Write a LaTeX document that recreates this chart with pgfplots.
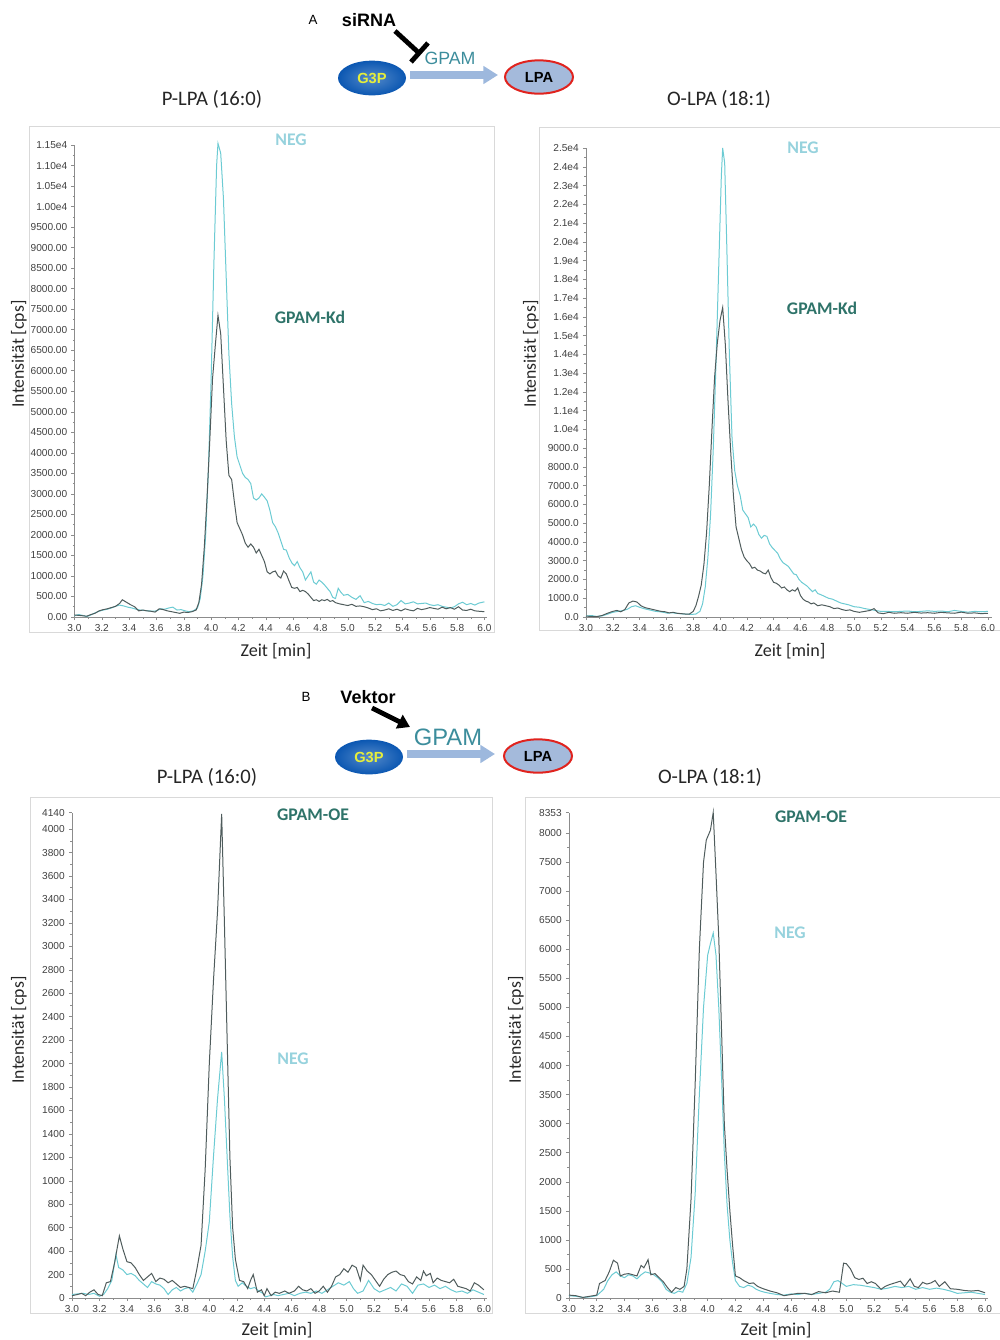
\documentclass[border=0pt]{standalone}
\usepackage{pgfplots}
\pgfplotsset{compat=1.18}
\usepackage{fontspec}
\setmainfont{Carlito}
\newfontfamily\arial{Liberation Sans}
\usetikzlibrary{arrows.meta,shapes.geometric}

\definecolor{negline}{HTML}{6CCBD3}
\definecolor{darkline}{HTML}{4F5C5C}
\definecolor{negtext}{HTML}{96D2DD}
\definecolor{kdtext}{HTML}{2E7369}
\definecolor{axisgray}{HTML}{8C8C8C}
\definecolor{tickgray}{HTML}{404040}
\definecolor{labeltext}{HTML}{262626}
\definecolor{framegray}{HTML}{D9D9D9}
\definecolor{gpamteal}{HTML}{3C8D9C}
\definecolor{arrowblue}{HTML}{9DB8DD}
\definecolor{lpafill}{HTML}{A4BADB}
\definecolor{lpared}{HTML}{E0231E}
\definecolor{gthreep}{HTML}{0B57B2}
\definecolor{gthreeptext}{HTML}{E6EE3A}

\pgfplotsset{
  chrom/.style={
    scale only axis,
    anchor=south west,
    axis x line=bottom,
    axis y line=left,
    axis line style={draw=axisgray,line width=0.6pt,-},
    tick style={draw=axisgray,line width=0.4pt},
    major tick length=2.4pt,
    minor tick length=1.3pt,
    tick align=outside,
    xmin=3,
    xtick={3.0,3.2,...,6.01},
    minor x tick num=1,
    minor y tick num=1,
    ymin=0,
    clip=false,
    scaled y ticks=false,
    scaled x ticks=false,
    /pgf/number format/assume math mode=true,
    tick label style={font=\arial\fontsize{7.6}{8.5}\selectfont,text=tickgray},
    xticklabel style={yshift=0.5pt,/pgf/number format/fixed,/pgf/number format/fixed zerofill,/pgf/number format/precision=1},
    yticklabel style={xshift=0.5pt},
    every axis plot/.append style={line width=0.75pt,mark=none},
  },
  intticks/.style={
    yticklabel style={/pgf/number format/fixed,/pgf/number format/precision=0,/pgf/number format/1000 sep={}},
  },
  negp/.style={draw=negline},
  kdp/.style={draw=darkline},
}

\begin{document}
\begin{tikzpicture}
\begin{scope}[x=0.75pt,y=-0.75pt]
\path[use as bounding box] (0,0) rectangle (992,1340);
% frames
\draw[framegray,line width=0.5pt] (29,126) rectangle (494,632);
\draw[framegray,line width=0.5pt] (539,127) rectangle (1000,630);
\draw[framegray,line width=0.5pt] (30,797) rectangle (492,1313);
\draw[framegray,line width=0.5pt] (525,797) rectangle (1000,1313);

% scheme A
\node[font=\arial\fontsize{10}{12}\selectfont] at (313,20) {A};
\node[font=\arial\bfseries\fontsize{13.5}{15}\selectfont] at (369,20) {siRNA};
\draw[black,line width=3.6pt] (395,31) -- (419,53);
\draw[black,line width=3.6pt] (411,62) -- (428,43);
\node[font=\arial\fontsize{13.3}{15}\selectfont,text=gpamteal] at (450,58) {GPAM};
\draw[arrowblue,line width=6pt,-{Triangle[length=11pt,width=13pt]}] (410,75) -- (498,75);
\node[ellipse,minimum width=51pt,minimum height=26pt,inner sep=0pt,
  inner color=gthreep!70!white,outer color=gthreep,
  font=\arial\bfseries\fontsize{11}{12}\selectfont,text=gthreeptext] at (372,78) {G3P};
\node[ellipse,minimum width=51pt,minimum height=25pt,inner sep=0pt,
  fill=lpafill,draw=lpared,line width=1.5pt,
  font=\arial\bfseries\fontsize{11}{12}\selectfont] at (539,77) {LPA};

% scheme B
\node[font=\arial\fontsize{10}{12}\selectfont] at (306,697) {B};
\node[font=\arial\bfseries\fontsize{13.5}{15}\selectfont] at (368,697) {Vektor};
\draw[black,line width=3.6pt,-{Triangle[length=9pt,width=11pt]}] (372,708) -- (410,727);
\node[font=\arial\fontsize{17.8}{20}\selectfont,text=gpamteal] at (448,737) {GPAM};
\draw[arrowblue,line width=6pt,-{Triangle[length=11pt,width=13pt]}] (407,754) -- (495,754);
\node[ellipse,minimum width=51pt,minimum height=26pt,inner sep=0pt,
  inner color=gthreep!70!white,outer color=gthreep,
  font=\arial\bfseries\fontsize{11}{12}\selectfont,text=gthreeptext] at (369,757) {G3P};
\node[ellipse,minimum width=51pt,minimum height=25pt,inner sep=0pt,
  fill=lpafill,draw=lpared,line width=1.5pt,
  font=\arial\bfseries\fontsize{11}{12}\selectfont] at (538,756) {LPA};

% titles and axis labels
\begin{scope}[every node/.style={text=labeltext}]
\node[font=\fontsize{15.5}{17}\selectfont] at (212,99) {P-LPA (16:0)};
\node[font=\fontsize{15.5}{17}\selectfont] at (719,99) {O-LPA (18:1)};
\node[font=\fontsize{15.5}{17}\selectfont] at (207,777) {P-LPA (16:0)};
\node[font=\fontsize{15.5}{17}\selectfont] at (710,777) {O-LPA (18:1)};
\node[font=\fontsize{13.3}{15}\selectfont,rotate=90] at (19,354) {Intensität [cps]};
\node[font=\fontsize{13.3}{15}\selectfont,rotate=90] at (531,354) {Intensität [cps]};
\node[font=\fontsize{13.3}{15}\selectfont,rotate=90] at (19,1030) {Intensität [cps]};
\node[font=\fontsize{13.3}{15}\selectfont,rotate=90] at (516,1030) {Intensität [cps]};
\node[font=\fontsize{13.6}{15}\selectfont] at (276,651) {Zeit [min]};
\node[font=\fontsize{13.6}{15}\selectfont] at (790,651) {Zeit [min]};
\node[font=\fontsize{13.6}{15}\selectfont] at (277,1330) {Zeit [min]};
\node[font=\fontsize{13.6}{15}\selectfont] at (776,1330) {Zeit [min]};
\end{scope}

% series labels
\node[font=\bfseries\fontsize{13.3}{15}\selectfont,text=negtext] at (291,140) {NEG};
\node[font=\bfseries\fontsize{13.3}{15}\selectfont,text=kdtext] at (310,317) {GPAM-Kd};
\node[font=\bfseries\fontsize{13.3}{15}\selectfont,text=negtext] at (803,148) {NEG};
\node[font=\bfseries\fontsize{13.3}{15}\selectfont,text=kdtext] at (822,308) {GPAM-Kd};
\node[font=\bfseries\fontsize{13.3}{15}\selectfont,text=kdtext] at (313,815) {GPAM-OE};
\node[font=\bfseries\fontsize{13.3}{15}\selectfont,text=negtext] at (293,1059) {NEG};
\node[font=\bfseries\fontsize{13.3}{15}\selectfont,text=kdtext] at (811,817) {GPAM-OE};
\node[font=\bfseries\fontsize{13.3}{15}\selectfont,text=negtext] at (790,933) {NEG};
\end{scope}

% ---------- A left: P-LPA (16:0), knockdown
\begin{axis}[chrom,
  at={(55.875pt,-462.75pt)},
  width=309.5pt, height=354pt,
  xmax=6.02, ymax=11500,
  ytick={0,500,...,11500},
  yticklabels={0.00,500.00,1000.00,1500.00,2000.00,2500.00,3000.00,3500.00,4000.00,4500.00,5000.00,5500.00,6000.00,6500.00,7000.00,7500.00,8000.00,8500.00,9000.00,9500.00,1.00e4,1.05e4,1.10e4,1.15e4},
]
\addplot[negp] coordinates {
(3.00,30)(3.03,60)(3.06,40)(3.09,10)(3.12,50)(3.15,100)(3.18,140)(3.21,170)(3.24,190)(3.27,220)(3.30,260)(3.33,290)(3.36,270)(3.39,240)(3.42,220)(3.45,190)(3.48,170)(3.51,160)(3.54,150)(3.57,140)(3.60,150)(3.63,200)(3.66,190)(3.69,220)(3.72,240)(3.75,170)(3.78,180)(3.81,150)(3.84,130)(3.87,150)(3.90,220)(3.92,450)(3.94,1000)(3.96,2000)(3.98,3600)(4.00,5800)(4.02,8600)(4.04,11000)(4.05,11540)(4.07,11300)(4.09,10200)(4.11,8300)(4.13,6400)(4.15,5200)(4.17,4400)(4.19,3900)(4.21,3700)(4.23,3500)(4.25,3400)(4.27,3350)(4.29,3250)(4.31,2900)(4.33,2850)(4.35,2900)(4.37,3000)(4.39,2920)(4.41,2830)(4.43,2600)(4.45,2300)(4.47,2200)(4.49,2050)(4.51,1850)(4.53,1650)(4.55,1630)(4.57,1450)(4.59,1320)(4.61,1250)(4.63,1350)(4.65,1200)(4.67,1100)(4.69,900)(4.71,1000)(4.73,1100)(4.75,850)(4.77,800)(4.79,900)(4.81,850)(4.83,780)(4.85,700)(4.87,620)(4.89,480)(4.91,450)(4.93,700)(4.95,600)(4.97,530)(5.00,550)(5.03,480)(5.06,430)(5.09,520)(5.12,350)(5.15,380)(5.18,330)(5.21,300)(5.24,310)(5.27,280)(5.30,340)(5.33,260)(5.36,300)(5.39,400)(5.42,320)(5.45,340)(5.48,370)(5.51,320)(5.54,330)(5.57,340)(5.60,300)(5.63,280)(5.66,300)(5.69,260)(5.72,240)(5.75,220)(5.78,250)(5.81,320)(5.84,360)(5.87,300)(5.90,330)(5.93,290)(5.96,340)(6.00,370)
};
\addplot[kdp] coordinates {
(3.00,50)(3.03,40)(3.06,30)(3.09,20)(3.12,60)(3.15,90)(3.18,150)(3.21,180)(3.24,200)(3.27,230)(3.30,260)(3.33,330)(3.35,420)(3.38,360)(3.41,300)(3.44,250)(3.47,150)(3.50,170)(3.53,150)(3.56,140)(3.59,120)(3.62,200)(3.65,180)(3.68,150)(3.71,130)(3.74,110)(3.77,90)(3.80,120)(3.83,110)(3.86,130)(3.89,170)(3.91,350)(3.93,800)(3.95,1700)(3.97,2900)(3.99,4300)(4.01,5800)(4.03,6600)(4.05,7350)(4.07,6900)(4.09,5600)(4.11,4300)(4.13,3450)(4.15,3350)(4.17,2800)(4.19,2300)(4.21,2150)(4.23,2000)(4.25,1800)(4.27,1700)(4.29,1780)(4.31,1700)(4.33,1560)(4.35,1650)(4.37,1500)(4.39,1350)(4.41,1100)(4.43,1050)(4.45,1100)(4.47,1120)(4.49,1000)(4.51,950)(4.53,1120)(4.55,1050)(4.57,880)(4.59,720)(4.61,700)(4.63,720)(4.65,620)(4.67,650)(4.69,620)(4.71,560)(4.73,480)(4.75,400)(4.77,420)(4.79,380)(4.81,420)(4.83,400)(4.85,430)(4.87,380)(4.89,400)(4.91,350)(4.94,320)(4.97,300)(5.00,280)(5.03,310)(5.06,260)(5.09,270)(5.12,250)(5.15,220)(5.18,180)(5.21,200)(5.24,150)(5.27,170)(5.30,200)(5.33,160)(5.36,190)(5.39,150)(5.42,200)(5.45,170)(5.48,150)(5.51,210)(5.54,180)(5.57,200)(5.60,230)(5.63,210)(5.66,190)(5.69,240)(5.72,200)(5.75,230)(5.78,190)(5.81,250)(5.84,170)(5.87,160)(5.90,190)(5.93,150)(5.96,140)(6.00,130)
};
\end{axis}

% ---------- A right: O-LPA (18:1), knockdown
\begin{axis}[chrom,
  at={(439.5pt,-462.75pt)},
  width=304.5pt, height=351.75pt,
  xmax=6.03, ymax=25000,
  ytick={0,1000,...,25000},
  yticklabels={0.0,1000.0,2000.0,3000.0,4000.0,5000.0,6000.0,7000.0,8000.0,9000.0,1.0e4,1.1e4,1.2e4,1.3e4,1.4e4,1.5e4,1.6e4,1.7e4,1.8e4,1.9e4,2.0e4,2.1e4,2.2e4,2.3e4,2.4e4,2.5e4},
]
\addplot[negp] coordinates {
(3.00,50)(3.04,80)(3.08,30)(3.12,60)(3.16,150)(3.20,250)(3.24,300)(3.28,350)(3.31,420)(3.34,550)(3.37,600)(3.40,520)(3.43,450)(3.46,400)(3.49,350)(3.52,300)(3.55,280)(3.58,250)(3.61,200)(3.64,230)(3.67,200)(3.70,180)(3.73,160)(3.76,150)(3.79,140)(3.82,160)(3.85,300)(3.87,700)(3.89,1600)(3.91,3200)(3.93,5500)(3.95,9000)(3.97,13500)(3.99,18500)(4.01,23500)(4.02,25000)(4.035,24200)(4.05,20000)(4.07,14000)(4.09,9500)(4.11,7800)(4.13,7000)(4.15,6500)(4.17,5700)(4.19,5500)(4.21,5300)(4.23,4800)(4.25,4950)(4.27,4800)(4.29,4400)(4.31,4200)(4.33,4350)(4.35,4300)(4.37,3900)(4.39,3700)(4.41,3550)(4.43,3400)(4.45,3100)(4.47,2900)(4.49,2800)(4.51,2700)(4.53,2500)(4.55,2300)(4.57,2250)(4.59,2000)(4.61,1850)(4.63,1750)(4.65,1650)(4.67,1500)(4.69,1350)(4.71,1450)(4.73,1250)(4.75,1200)(4.78,1100)(4.81,1000)(4.84,950)(4.87,850)(4.90,750)(4.93,700)(4.96,650)(5.00,550)(5.04,520)(5.08,450)(5.12,400)(5.16,350)(5.20,300)(5.25,300)(5.30,280)(5.35,300)(5.40,320)(5.45,280)(5.50,300)(5.55,330)(5.60,300)(5.65,320)(5.70,280)(5.75,350)(5.80,300)(5.85,260)(5.90,300)(5.95,280)(6.00,300)
};
\addplot[kdp] coordinates {
(3.00,50)(3.04,30)(3.08,20)(3.12,80)(3.16,200)(3.20,300)(3.23,350)(3.26,280)(3.29,400)(3.32,750)(3.35,850)(3.38,800)(3.41,600)(3.44,500)(3.47,450)(3.50,400)(3.53,350)(3.56,300)(3.59,280)(3.62,220)(3.65,250)(3.68,200)(3.71,180)(3.74,160)(3.77,150)(3.80,300)(3.82,600)(3.84,1100)(3.86,1700)(3.88,2800)(3.90,4500)(3.92,7000)(3.94,10000)(3.96,12800)(3.98,14600)(4.00,15800)(4.02,16500)(4.04,14500)(4.06,11500)(4.08,8800)(4.10,6500)(4.12,4800)(4.14,4200)(4.16,3600)(4.18,3200)(4.20,3000)(4.22,2850)(4.24,2600)(4.26,2650)(4.28,2500)(4.30,2450)(4.32,2350)(4.34,2300)(4.36,2500)(4.38,2100)(4.40,1850)(4.42,1800)(4.44,1700)(4.46,1550)(4.48,1600)(4.50,1450)(4.52,1350)(4.54,1450)(4.56,1380)(4.58,1550)(4.60,1150)(4.62,950)(4.64,850)(4.66,800)(4.68,700)(4.70,750)(4.73,600)(4.76,650)(4.79,600)(4.82,550)(4.85,450)(4.88,480)(4.91,400)(4.94,350)(4.97,380)(5.00,300)(5.04,250)(5.08,300)(5.12,350)(5.15,450)(5.18,220)(5.22,180)(5.26,250)(5.30,200)(5.35,230)(5.40,200)(5.45,250)(5.50,210)(5.55,230)(5.60,200)(5.65,250)(5.70,220)(5.75,200)(5.80,260)(5.85,200)(5.90,220)(5.95,180)(6.00,200)
};
\end{axis}

% ---------- B left: P-LPA (16:0), overexpression
\begin{axis}[chrom,intticks,
  at={(54pt,-973.5pt)},
  width=311pt, height=364pt,
  xmax=6.02, ymax=4140,
  ytick={0,200,...,4000},
  extra y ticks={4140},
]
\addplot[negp] coordinates {
(3.00,30)(3.04,35)(3.08,40)(3.12,30)(3.16,40)(3.20,15)(3.23,30)(3.26,80)(3.29,150)(3.32,370)(3.34,260)(3.37,240)(3.40,200)(3.43,210)(3.46,190)(3.49,150)(3.52,120)(3.55,90)(3.58,140)(3.61,120)(3.64,110)(3.67,80)(3.70,30)(3.73,70)(3.76,90)(3.79,60)(3.82,80)(3.85,90)(3.88,50)(3.91,120)(3.94,200)(3.97,400)(4.00,650)(4.03,1200)(4.06,1700)(4.09,2100)(4.11,1700)(4.13,1200)(4.15,700)(4.17,350)(4.19,150)(4.21,100)(4.24,130)(4.27,100)(4.30,80)(4.33,90)(4.36,60)(4.39,40)(4.41,10)(4.44,20)(4.47,30)(4.50,20)(4.54,30)(4.58,40)(4.62,20)(4.66,40)(4.70,50)(4.74,40)(4.78,60)(4.82,40)(4.86,70)(4.90,100)(4.94,130)(4.98,110)(5.02,140)(5.05,80)(5.08,40)(5.12,60)(5.16,150)(5.20,80)(5.24,50)(5.28,70)(5.32,90)(5.36,60)(5.40,120)(5.44,100)(5.48,40)(5.52,110)(5.56,120)(5.60,90)(5.64,110)(5.68,80)(5.72,100)(5.76,70)(5.80,50)(5.84,60)(5.88,40)(5.92,70)(5.96,50)(6.00,30)
};
\addplot[kdp] coordinates {
(3.00,20)(3.04,30)(3.07,40)(3.10,20)(3.13,50)(3.16,70)(3.19,30)(3.22,20)(3.25,130)(3.28,140)(3.31,300)(3.345,530)(3.37,420)(3.40,310)(3.43,300)(3.46,260)(3.49,200)(3.52,150)(3.55,180)(3.58,210)(3.61,140)(3.64,170)(3.67,160)(3.70,130)(3.73,150)(3.76,120)(3.79,90)(3.82,100)(3.85,90)(3.88,80)(3.91,250)(3.94,450)(3.97,1100)(4.00,2000)(4.03,2700)(4.06,3300)(4.09,4130)(4.11,3200)(4.13,2200)(4.15,1200)(4.17,600)(4.19,330)(4.22,150)(4.25,140)(4.28,80)(4.30,150)(4.32,200)(4.35,50)(4.38,70)(4.40,20)(4.42,80)(4.45,20)(4.48,50)(4.51,40)(4.55,60)(4.58,40)(4.62,60)(4.65,100)(4.68,70)(4.71,60)(4.74,80)(4.77,40)(4.80,60)(4.83,100)(4.86,50)(4.89,100)(4.92,180)(4.95,200)(4.98,250)(5.01,220)(5.04,280)(5.07,260)(5.10,150)(5.12,280)(5.15,230)(5.18,200)(5.21,150)(5.24,100)(5.27,160)(5.30,200)(5.33,220)(5.36,230)(5.39,200)(5.42,190)(5.45,140)(5.48,120)(5.51,180)(5.54,150)(5.56,230)(5.58,190)(5.61,210)(5.63,130)(5.66,170)(5.69,150)(5.72,140)(5.75,130)(5.78,160)(5.81,100)(5.84,90)(5.87,80)(5.90,60)(5.93,130)(5.96,110)(6.00,70)
};
\end{axis}

% ---------- B right: O-LPA (18:1), overexpression
\begin{axis}[chrom,intticks,
  at={(426.75pt,-973.5pt)},
  width=314.1pt, height=364.1pt,
  xmax=6.02, ymax=8353,
  ytick={0,500,...,8000},
  extra y ticks={8353},
]
\addplot[negp] coordinates {
(3.00,40)(3.05,30)(3.10,10)(3.15,20)(3.20,40)(3.25,150)(3.28,300)(3.31,400)(3.34,450)(3.37,380)(3.40,350)(3.43,400)(3.46,380)(3.49,330)(3.52,400)(3.55,450)(3.58,430)(3.61,400)(3.64,350)(3.67,280)(3.70,150)(3.73,100)(3.76,80)(3.79,120)(3.82,100)(3.85,250)(3.88,700)(3.91,1800)(3.94,3500)(3.97,5000)(4.00,5900)(4.02,6100)(4.04,6280)(4.06,5900)(4.08,5000)(4.10,3800)(4.12,2500)(4.14,1600)(4.16,1000)(4.18,600)(4.20,300)(4.23,200)(4.26,180)(4.29,220)(4.32,200)(4.35,150)(4.38,120)(4.41,100)(4.45,80)(4.50,60)(4.55,50)(4.60,70)(4.65,60)(4.70,80)(4.75,60)(4.80,80)(4.85,100)(4.88,150)(4.91,280)(4.94,300)(4.97,250)(5.00,200)(5.05,230)(5.10,220)(5.15,200)(5.20,180)(5.25,150)(5.30,170)(5.35,200)(5.40,180)(5.45,200)(5.50,150)(5.55,180)(5.60,150)(5.65,170)(5.70,150)(5.75,120)(5.80,80)(5.85,90)(5.90,100)(5.95,80)(6.00,60)
};
\addplot[kdp] coordinates {
(3.00,50)(3.05,40)(3.10,10)(3.15,30)(3.20,50)(3.22,250)(3.26,300)(3.29,450)(3.32,650)(3.35,600)(3.37,380)(3.40,410)(3.43,420)(3.46,400)(3.49,380)(3.52,560)(3.54,520)(3.57,660)(3.59,400)(3.62,420)(3.65,350)(3.68,280)(3.71,180)(3.74,100)(3.77,180)(3.80,150)(3.83,200)(3.85,500)(3.88,1700)(3.91,3700)(3.94,6000)(3.97,7500)(3.99,7880)(4.02,8050)(4.04,8353)(4.06,7300)(4.08,6200)(4.10,4600)(4.12,3000)(4.14,2200)(4.16,1500)(4.18,900)(4.20,380)(4.23,350)(4.26,300)(4.30,250)(4.33,260)(4.36,200)(4.40,160)(4.45,120)(4.50,90)(4.55,40)(4.60,60)(4.65,80)(4.70,80)(4.75,60)(4.80,110)(4.85,90)(4.90,120)(4.95,100)(4.98,600)(5.00,590)(5.03,500)(5.06,350)(5.09,320)(5.12,340)(5.15,250)(5.18,280)(5.21,250)(5.25,150)(5.28,200)(5.31,230)(5.35,260)(5.39,290)(5.42,200)(5.46,330)(5.49,200)(5.52,180)(5.55,270)(5.58,240)(5.61,260)(5.64,300)(5.67,200)(5.71,280)(5.75,160)(5.80,150)(5.85,130)(5.90,120)(5.95,130)(6.00,90)
};
\end{axis}
\end{tikzpicture}
\end{document}
